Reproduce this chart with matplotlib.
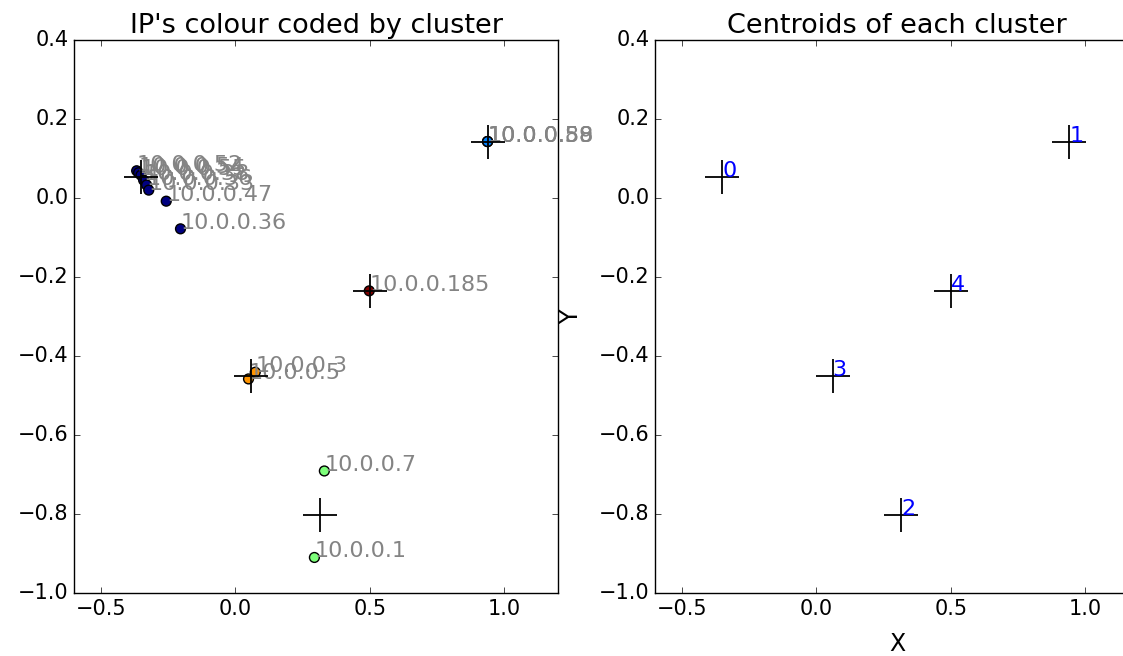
import matplotlib
matplotlib.use("Agg")
import matplotlib.pyplot as plt
from matplotlib.ticker import MultipleLocator

# ── Data ────────────────────────────────────────────────────────────────────
ip_labels = ["10.0.0.52", "10.0.0.54", "10.0.0.55", "10.0.0.38", "10.0.0.56",
             "10.0.0.33", "10.0.0.47", "10.0.0.36",
             "10.0.0.58", "10.0.0.59", "10.0.0.88",
             "10.0.0.7", "10.0.0.1",
             "10.0.0.3", "10.0.0.5",
             "10.0.0.185"]
ip_x = [-0.367, -0.360, -0.351, -0.341, -0.330, -0.322, -0.257, -0.204,
        0.938, 0.938, 0.938,
        0.331, 0.294,
        0.074, 0.049,
        0.498]
ip_y = [0.069, 0.064, 0.058, 0.045, 0.033, 0.020, -0.008, -0.078,
        0.143, 0.143, 0.143,
        -0.691, -0.910,
        -0.441, -0.458,
        -0.235]
ip_cluster = [0, 0, 0, 0, 0, 0, 0, 0,
              1, 1, 1,
              2, 2,
              3, 3,
              4]

centroid_ids = [0, 1, 2, 3, 4]
centroid_x = [-0.350, 0.940, 0.315, 0.060, 0.500]
centroid_y = [0.052, 0.143, -0.802, -0.450, -0.235]

XLIM = (-0.6, 1.2)
YLIM = (-1.0, 0.4)

plt.style.use("classic")
plt.rcParams.update({
    "font.family": "DejaVu Sans",
    "xtick.labelsize": 15,
    "ytick.labelsize": 15,
})

fig = plt.figure(figsize=(11.23, 6.56), dpi=100, facecolor="white")
ax1 = fig.add_axes([0.0659, 0.096, 0.431, 0.843])
ax2 = fig.add_axes([0.5833, 0.096, 0.431, 0.843])

# left: IPs coloured by cluster
ax1.scatter(ip_x, ip_y, c=ip_cluster, cmap="jet", vmin=0, vmax=4,
            s=50, edgecolors="black", linewidths=1, zorder=2)
for lab, x, y in zip(ip_labels, ip_x, ip_y):
    ax1.text(x, y, lab, color="#848484", fontsize=16, zorder=3)
ax1.plot(centroid_x, centroid_y, "k+", markersize=24, markeredgewidth=1.3,
         zorder=4)
ax1.set_title("IP's colour coded by cluster", fontsize=19.5)

# right: centroids only
ax2.plot(centroid_x, centroid_y, "k+", markersize=24, markeredgewidth=1.3)
for cid, x, y in zip(centroid_ids, centroid_x, centroid_y):
    ax2.text(x, y, str(cid), color="blue", fontsize=16)
ax2.set_title("Centroids of each cluster", fontsize=19.5)
ax2.set_xlabel("X", fontsize=17, labelpad=10)
ax2.set_ylabel("Y", fontsize=17, labelpad=11)

for ax in (ax1, ax2):
    ax.set_xlim(XLIM)
    ax.set_ylim(YLIM)
    ax.xaxis.set_major_locator(MultipleLocator(0.5))
    ax.yaxis.set_major_locator(MultipleLocator(0.2))

fig.savefig("out.png", dpi=100, facecolor="white")
